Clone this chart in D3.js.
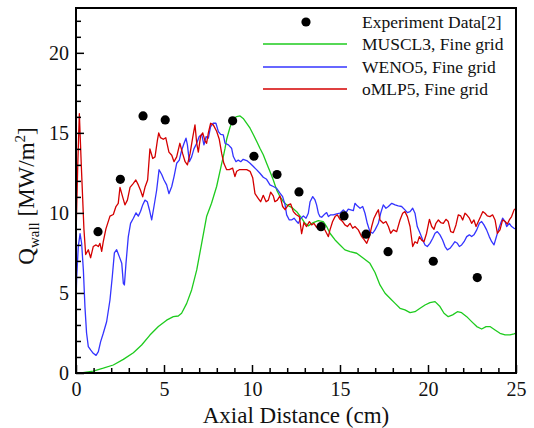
<!DOCTYPE html>
<html><head><meta charset="utf-8">
<script src="https://cdn.jsdelivr.net/npm/d3@7"></script>
<style>body{margin:0;background:#fff}svg{display:block}</style>
</head><body>
<script>
// ---- data ----
const expData = [[1.25,8.83],[2.52,12.1],[3.81,16.06],[5.07,15.81],[8.9,15.75],[10.11,13.54],[11.42,12.4],[12.67,11.31],[13.92,9.14],[15.23,9.81],[16.48,8.67],[17.73,7.58],[20.3,6.98],[22.8,5.96]];

const muscl3 = [[0,0],[0.4,0.02],[0.98,0.12],[1.55,0.3],[2.12,0.5],[2.69,0.85],[3.26,1.27],[3.73,1.75],[4.2,2.37],[4.68,2.9],[5.15,3.3],[5.53,3.52],[5.81,3.56],[6.0,3.73],[6.29,4.35],[6.57,5.19],[6.86,6.44],[7.14,8.1],[7.42,9.77],[7.7,10.6],[7.99,11.65],[8.28,13.1],[8.37,13.52],[8.47,14.04],[8.56,14.6],[8.75,15.35],[8.94,15.9],[9.13,16.02],[9.32,16.06],[9.5,15.9],[9.7,15.6],[9.89,15.29],[10.08,14.88],[10.27,14.46],[10.45,14.04],[10.64,13.63],[10.83,13.1],[11.02,12.58],[11.21,12.06],[11.4,11.44],[11.59,11.02],[11.78,10.71],[11.97,10.5],[12.25,10.35],[12.54,10.08],[12.82,9.67],[13.01,9.35],[13.2,9.19],[13.48,9.4],[13.77,9.52],[14.05,9.46],[14.24,9.15],[14.43,8.73],[14.72,8.31],[15.0,8.0],[15.28,7.69],[15.57,7.58],[15.95,7.48],[16.33,7.17],[16.7,6.85],[16.99,6.28],[17.27,5.5],[17.56,4.98],[17.84,4.67],[18.13,4.35],[18.41,4.04],[18.69,3.94],[18.98,3.77],[19.26,3.83],[19.55,4.04],[19.83,4.25],[20.11,4.4],[20.4,4.46],[20.68,4.15],[20.91,3.73],[21.15,3.52],[21.4,3.63],[21.67,3.83],[21.91,3.77],[22.2,3.52],[22.48,3.21],[22.77,2.9],[23.05,2.75],[23.3,2.9],[23.52,2.9],[23.81,2.69],[24.09,2.48],[24.38,2.38],[24.66,2.38],[24.89,2.44],[25,2.5]];

const weno5 = [[0,4.5],[0.04,6.0],[0.13,7.9],[0.23,8.7],[0.32,8.1],[0.42,6.4],[0.51,4.1],[0.6,2.5],[0.7,1.65],[0.83,1.44],[0.98,1.23],[1.14,1.1],[1.27,1.33],[1.4,1.96],[1.55,2.48],[1.74,3.2],[1.93,4.56],[2.06,6.0],[2.18,7.5],[2.31,7.7],[2.46,7.27],[2.6,6.85],[2.69,5.6],[2.75,5.5],[2.84,6.85],[2.97,8.5],[3.1,9.35],[3.26,9.67],[3.41,10.0],[3.54,9.8],[3.67,10.1],[3.79,10.5],[3.92,10.8],[4.05,10.7],[4.17,10.2],[4.3,9.56],[4.43,10.4],[4.58,11.4],[4.72,12.7],[4.87,12.4],[5.0,12.06],[5.15,11.75],[5.28,11.2],[5.44,11.65],[5.57,12.27],[5.72,13.1],[5.87,13.3],[6.0,13.9],[6.14,14.35],[6.25,14.67],[6.33,14.25],[6.44,13.2],[6.57,13.5],[6.7,14.0],[6.86,14.35],[7.0,14.77],[7.14,14.9],[7.27,14.25],[7.39,14.77],[7.52,14.67],[7.65,15.4],[7.8,15.6],[7.95,15.6],[8.09,15.08],[8.22,14.9],[8.37,14.88],[8.47,14.35],[8.66,14.25],[8.84,14.04],[8.94,13.52],[9.09,13.2],[9.22,13.3],[9.36,13.2],[9.5,13.35],[9.7,13.27],[9.89,13.1],[10.08,12.9],[10.27,12.69],[10.45,12.48],[10.64,12.23],[10.83,12.1],[11.02,11.75],[11.21,11.65],[11.4,11.54],[11.59,11.23],[11.74,11.02],[11.88,10.5],[11.97,9.88],[12.12,9.56],[12.25,9.56],[12.39,9.67],[12.54,9.46],[12.63,9.35],[12.77,9.67],[12.92,9.81],[13.07,9.67],[13.2,9.98],[13.3,10.7],[13.45,11.02],[13.58,10.81],[13.67,10.5],[13.77,9.98],[13.86,9.77],[13.96,9.73],[14.09,9.88],[14.24,10.02],[14.34,9.77],[14.47,9.88],[14.62,9.88],[14.81,9.94],[15.0,9.98],[15.19,10.19],[15.34,10.02],[15.47,10.23],[15.61,10.19],[15.76,10.15],[15.85,10.6],[15.98,10.44],[16.14,10.29],[16.29,10.4],[16.42,9.98],[16.55,9.35],[16.7,8.83],[16.86,8.73],[16.99,8.94],[17.18,9.35],[17.31,9.98],[17.46,10.5],[17.61,10.29],[17.75,10.4],[17.94,10.6],[18.13,10.5],[18.31,10.44],[18.5,10.4],[18.69,10.19],[18.83,10.02],[18.98,10.08],[19.13,10.29],[19.26,9.98],[19.39,9.15],[19.55,8.73],[19.7,8.31],[19.83,8.0],[19.96,7.9],[20.11,8.1],[20.27,8.42],[20.4,8.73],[20.53,8.83],[20.68,8.63],[20.83,8.31],[20.97,7.9],[21.1,7.69],[21.25,7.79],[21.4,8.0],[21.53,8.2],[21.67,8.1],[21.78,7.9],[21.91,8.0],[22.05,8.2],[22.2,8.52],[22.35,8.63],[22.48,8.52],[22.61,8.63],[22.77,8.94],[22.92,9.35],[23.05,9.46],[23.18,9.25],[23.33,8.94],[23.48,8.52],[23.62,8.2],[23.75,8.0],[23.86,8.42],[24.0,8.94],[24.13,9.35],[24.24,9.67],[24.38,9.46],[24.47,9.15],[24.62,9.35],[24.75,9.15],[24.89,9.04],[25,9.0]];

const omlp5 = [[0,8.5],[0.1,13],[0.19,16.2],[0.3,13],[0.45,9],[0.55,7.4],[0.7,7.7],[0.83,7.2],[0.98,7.9],[1.14,8.0],[1.27,7.9],[1.36,8.1],[1.46,7.6],[1.55,8.2],[1.7,9.0],[1.93,9.8],[2.12,9.9],[2.27,10.4],[2.4,10.6],[2.5,11.6],[2.65,11.0],[2.78,10.5],[2.92,10.8],[3.07,11.6],[3.26,11.85],[3.4,12.06],[3.54,11.75],[3.67,11.4],[3.79,11.0],[3.92,11.6],[4.07,12.06],[4.2,14.0],[4.36,13.4],[4.49,13.5],[4.62,14.5],[4.7,15.0],[4.8,14.7],[4.96,14.6],[5.1,14.7],[5.19,14.25],[5.28,13.8],[5.44,13.6],[5.57,13.2],[5.72,13.5],[5.9,14.35],[6.06,13.7],[6.2,13.2],[6.33,13.0],[6.48,13.7],[6.63,14.7],[6.76,15.5],[6.86,14.35],[6.95,13.8],[7.08,14.8],[7.2,15.0],[7.33,14.5],[7.42,14.35],[7.52,15.0],[7.65,15.6],[7.8,15.5],[7.99,15.1],[8.14,14.6],[8.28,13.7],[8.4,13.1],[8.56,12.7],[8.71,12.7],[8.9,12.8],[9.03,12.27],[9.13,12.6],[9.28,12.7],[9.5,12.7],[9.7,12.7],[9.89,12.6],[10.04,12.2],[10.17,11.2],[10.36,10.9],[10.49,10.7],[10.64,11.1],[10.8,10.7],[10.93,10.8],[11.06,11.3],[11.21,11.06],[11.3,10.7],[11.44,10.8],[11.59,11.06],[11.74,10.4],[11.88,10.2],[12.06,10.5],[12.2,10.56],[12.35,10.08],[12.5,9.9],[12.69,9.77],[12.82,8.7],[12.95,9.4],[13.1,9.15],[13.26,9.46],[13.39,9.25],[13.52,9.35],[13.67,9.1],[13.83,9.25],[13.96,8.94],[14.09,9.04],[14.24,8.73],[14.34,8.52],[14.43,8.94],[14.58,9.46],[14.72,9.77],[14.85,9.88],[15.0,9.6],[15.15,9.46],[15.28,9.25],[15.42,9.15],[15.57,9.35],[15.72,9.04],[15.85,9.15],[16.04,8.94],[16.23,8.52],[16.36,8.35],[16.52,8.1],[16.67,8.52],[16.8,9.15],[16.93,9.67],[17.08,10.0],[17.18,10.2],[17.27,9.56],[17.46,9.35],[17.61,9.46],[17.75,9.15],[17.88,8.73],[18.03,8.94],[18.22,8.83],[18.41,9.56],[18.56,9.98],[18.69,10.08],[18.83,9.77],[18.98,9.15],[19.13,7.9],[19.26,8.2],[19.39,8.1],[19.51,8.52],[19.64,8.3],[19.77,8.2],[19.92,8.73],[20.08,9.6],[20.21,9.15],[20.34,8.98],[20.45,9.35],[20.59,9.56],[20.72,9.4],[20.87,9.35],[21.02,9.6],[21.15,9.46],[21.29,8.83],[21.44,8.77],[21.59,9.25],[21.72,9.88],[21.86,9.81],[21.97,9.56],[22.1,9.98],[22.2,9.88],[22.35,9.67],[22.48,9.35],[22.61,9.56],[22.73,9.15],[22.86,9.46],[22.99,9.77],[23.11,10.08],[23.24,9.98],[23.37,9.81],[23.52,9.77],[23.67,9.88],[23.81,9.56],[23.94,8.73],[24.09,8.94],[24.24,9.56],[24.38,9.46],[24.51,9.31],[24.62,9.56],[24.75,9.77],[24.89,10.19],[25,10.3]];

const xTicks = [0,5,10,15,20,25];
const yTicks = [0,5,10,15,20];
const legendLabels = ["Experiment Data[2]","MUSCL3, Fine grid","WENO5, Fine grid","oMLP5, Fine grid"];
const colors = {muscl3:"#1ecb1e", weno5:"#3434ff", omlp5:"#d40000"};

// ---- chart ----
const W = 534, H = 428;
const L = 76, R = 516, T = 8, B = 373;
const x = d3.scaleLinear().domain([0,25]).range([L,R]);
const y = d3.scaleLinear().domain([0,22.8]).range([B,T]);
const font = "'Liberation Serif','Times New Roman',serif";

const svg = d3.select("body").append("svg").attr("width",W).attr("height",H)
  .style("font-family", font);

svg.append("defs").append("clipPath").attr("id","clip")
  .append("rect").attr("x",L).attr("y",T).attr("width",R-L).attr("height",B-T);

const line = d3.line().x(d=>x(d[0])).y(d=>y(d[1]));
const g = svg.append("g").attr("clip-path","url(#clip)");
[["muscl3",muscl3],["weno5",weno5],["omlp5",omlp5]].forEach(([k,data])=>{
  g.append("path").datum(data).attr("d",line).attr("fill","none")
   .attr("stroke",colors[k]).attr("stroke-width",1.3).attr("stroke-linejoin","round");
});

svg.append("g").selectAll("circle").data(expData).join("circle")
  .attr("cx",d=>x(d[0])).attr("cy",d=>y(d[1])).attr("r",4.6).attr("fill","#000");

// axes (ticks inward)
const xAxis = d3.axisBottom(x).tickValues(xTicks).tickSize(-8).tickPadding(9).tickFormat(d3.format("d"));
const xMinor = d3.axisBottom(x).tickValues(d3.range(0,26,1).filter(v=>v%5)).tickSize(-5).tickFormat("");
const yAxis = d3.axisLeft(y).tickValues(yTicks).tickSize(-8).tickPadding(7).tickFormat(d3.format("d"));
const yMinor = d3.axisLeft(y).tickValues(d3.range(0,23,1).filter(v=>v%5)).tickSize(-5).tickFormat("");

function styleAxis(sel){
  sel.attr("font-family", null);
  sel.select(".domain").remove();
  sel.selectAll("line").attr("stroke","#000").attr("stroke-width",1.5);
  sel.selectAll("text").attr("fill","#111").style("font-size","20px").style("font-family",font);
}
svg.append("g").attr("transform",`translate(0,${B})`).call(xMinor).call(styleAxis);
svg.append("g").attr("transform",`translate(0,${B})`).call(xAxis).call(styleAxis);
svg.append("g").attr("transform",`translate(${L},0)`).call(yMinor).call(styleAxis);
svg.append("g").attr("transform",`translate(${L},0)`).call(yAxis).call(styleAxis);

// frame
svg.append("rect").attr("x",L).attr("y",T).attr("width",R-L).attr("height",B-T)
  .attr("fill","none").attr("stroke","#000").attr("stroke-width",2);

// titles
svg.append("text").attr("x",296).attr("y",423).attr("text-anchor","middle")
  .style("font-size","23px").attr("fill","#111").text("Axial Distance (cm)");

const yt = svg.append("text").attr("transform","translate(34,196) rotate(-90)")
  .attr("text-anchor","middle").style("font-size","23px").attr("fill","#111");
yt.append("tspan").text("Q");
yt.append("tspan").attr("dy",5).style("font-size","15px").text("wall");
yt.append("tspan").attr("dy",-5).text(" [MW/m");
yt.append("tspan").attr("dy",-9).style("font-size","15px").text("2");
yt.append("tspan").attr("dy",9).text("]");

// legend
const ly = [22,44,67,89];
const lg = svg.append("g");
lg.append("circle").attr("cx",306).attr("cy",ly[0]).attr("r",4.6).attr("fill","#000");
["muscl3","weno5","omlp5"].forEach((k,i)=>{
  lg.append("line").attr("x1",263).attr("x2",347).attr("y1",ly[i+1]).attr("y2",ly[i+1])
    .attr("stroke",colors[k]).attr("stroke-width",1.3);
});
legendLabels.forEach((t,i)=>{
  lg.append("text").attr("x",362).attr("y",ly[i]).attr("dy","0.35em")
    .style("font-size","17.5px").attr("fill","#111").text(t);
});
</script>
</body></html>
